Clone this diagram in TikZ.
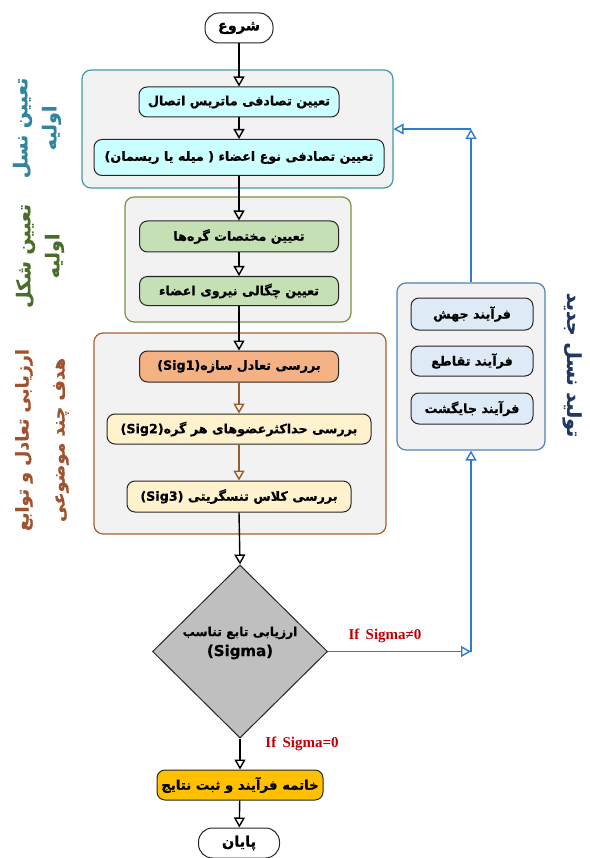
\documentclass[tikz,border=0pt]{standalone}
\usepackage{fontspec}
\setmainfont{Liberation Serif}
\newfontfamily\arabicfont[Script=Arabic, BoldFeatures={FakeBold=0.6}]{DejaVu Sans}
\TeXXeTstate=1
\usetikzlibrary{arrows.meta,shapes.geometric}
\newcommand{\fa}[1]{{\arabicfont\bfseries\beginR #1\endR}}
\definecolor{grpfill}{HTML}{F2F2F2}
\definecolor{tealb}{HTML}{3F9CA6}
\definecolor{greenb}{HTML}{77933C}
\definecolor{brownb}{HTML}{A86032}
\definecolor{blueb}{HTML}{4F81BD}
\definecolor{cyanf}{HTML}{CCFFFF}
\definecolor{greenf}{HTML}{C5E0B4}
\definecolor{salmonf}{HTML}{F4B183}
\definecolor{creamf}{HTML}{FFF2CC}
\definecolor{bluef}{HTML}{DEEBF7}
\definecolor{goldf}{HTML}{FFC000}
\definecolor{diaf}{HTML}{BFBFBF}
\definecolor{conblue}{HTML}{2E7BCF}
\definecolor{conbrown}{HTML}{9C5A2A}
\definecolor{redtxt}{HTML}{C00000}
\definecolor{teallbl}{HTML}{31859C}
\definecolor{greenlbl}{HTML}{4A6E2A}
\definecolor{brownlbl}{HTML}{A0522D}
\definecolor{navylbl}{HTML}{203864}
\tikzset{
  grp/.style={draw, rounded corners=9pt, fill=grpfill, line width=1.2pt},
  bx/.style={draw=black!85, rounded corners=8pt, line width=1pt, inner sep=2pt,
    font=\fontsize{12.7}{15}\selectfont},
  pill/.style={draw=black!85, rounded corners=14pt, line width=1pt, fill=white,
    minimum height=30pt, font=\fontsize{14.5}{16}\selectfont},
  arr/.style={line width=1.4pt, -{Triangle[open, length=10pt, width=11pt]}},
  barr/.style={draw=conblue, line width=1.4pt, -{Triangle[open, length=10pt, width=11pt]}},
  brarr/.style={draw=conbrown, line width=1.4pt, -{Triangle[open, length=10pt, width=11pt]}},
  vlbl/.style={align=center, font=\fontsize{19}{29}\selectfont},
  cond/.style={text=redtxt, font=\bfseries\fontsize{15}{17}\selectfont}
}
\begin{document}
\begin{tikzpicture}[x=1pt,y=-1pt]
\path[use as bounding box] (0,0) rectangle (589,858);

% groups
\node[grp, draw=tealb, minimum width=311pt, minimum height=118pt] (g1) at (237.5,129) {};
\node[grp, draw=greenb, minimum width=226pt, minimum height=125pt] (g2) at (238,259.5) {};
\node[grp, draw=brownb, minimum width=292pt, minimum height=201pt] (g3) at (240,433.5) {};
\node[grp, draw=blueb, minimum width=148pt, minimum height=167pt] (rg) at (471,366.5) {};

% start / end
\node[pill, minimum width=68pt] (start) at (239,28) {\fa{شروع}};
\node[pill, minimum width=81pt] (stop) at (239,843) {\fa{پایان}};

% boxes
\node[bx, fill=cyanf, minimum width=200pt, minimum height=30pt] (b1) at (239,102) {\fa{تعیین تصادفی ماتریس اتصال}};
\node[bx, fill=cyanf, minimum width=290pt, minimum height=36pt] (b2) at (239,157.5) {\fa{تعیین تصادفی نوع اعضاء ( میله یا ریسمان)}};
\node[bx, fill=greenf, minimum width=199pt, minimum height=31pt] (b3) at (239,236.5) {\fa{تعیین مختصات گره‌ها}};
\node[bx, fill=greenf, minimum width=199pt, minimum height=29pt] (b4) at (239,291) {\fa{تعیین چگالی نیروی اعضاء}};
\node[bx, fill=salmonf, minimum width=199pt, minimum height=31pt] (b5) at (239,366.5) {\fa{بررسی تعادل سازه\beginL(Sig1)\endL}};
\node[bx, fill=creamf, minimum width=264pt, minimum height=30pt] (b6) at (239,429) {\fa{بررسی حداکثرعضوهای هر گره\beginL(Sig2)\endL}};
\node[bx, fill=creamf, minimum width=224pt, minimum height=31pt] (b7) at (239,496.5) {\fa{بررسی کلاس تنسگریتی \beginL(Sig3)\endL}};

\node[bx, fill=bluef, minimum width=122pt, minimum height=32pt] (r1) at (472,314) {\fa{فرآیند جهش}};
\node[bx, fill=bluef, minimum width=122pt, minimum height=30pt] (r2) at (472,361) {\fa{فرآیند تقاطع}};
\node[bx, fill=bluef, minimum width=122pt, minimum height=31pt] (r3) at (472,408.5) {\fa{فرآیند جایگشت}};

% decision
\node[diamond, draw=black!85, fill=diaf, line width=1pt, minimum width=175pt, minimum height=173pt, inner sep=0pt] (dia) at (240,651.5) {};
\node[align=center, font=\fontsize{12.3}{20}\selectfont] (diat) at (240,643) {\fa{ارزیابی تابع تناسب}\\{\fontsize{15}{20}\selectfont\fa{\beginL(Sigma)\endL}}};

\node[bx, fill=goldf, minimum width=166pt, minimum height=30pt, font=\fontsize{13.3}{15}\selectfont] (fin) at (240,785) {\fa{خاتمه فرآیند و ثبت نتایج}};

% side labels
\node[vlbl, rotate=90, text=teallbl] (l1) at (37,128) {\fa{تعیین نسل}\\\fa{اولیه}};
\node[vlbl, rotate=90, text=greenlbl] (l2) at (40,256) {\fa{تعیین شکل}\\\fa{اولیه}};
\node[vlbl, rotate=90, text=brownlbl, font=\fontsize{17.5}{36}\selectfont] (l3) at (42,440) {\fa{ارزیابی تعادل و توابع}\\\fa{هدف چند موضوعی}};
\node[vlbl, rotate=-90, text=navylbl] (l4) at (572,365) {\fa{تولید نسل جدید}};

% condition labels
\node[cond] (c0) at (385,636) {If\, Sigma≠0};
\node[cond] (c1lbl) at (302,744) {If\, Sigma=0};

% connectors
\draw[arr] (start) -- (b1);
\draw[arr] (b1) -- (b2);
\draw[arr] (b2.south) -- (b3.north);
\draw[arr] (b3) -- (b4);
\draw[arr] (b4) -- (b5);
\draw[brarr] (b5) -- (b6);
\draw[brarr] (b6) -- (b7);
\draw[arr] (b7.south) -- (dia.north);
\draw[arr] (dia.south) -- (fin.north);
\draw[arr] (fin) -- (stop);

\coordinate (k1) at (471,651.5);
\coordinate (k2) at (471,129);
\draw[barr] (dia.east) -- (k1);
\draw[barr] (k1) -- (rg.south);
\draw[barr] (rg.north) -- (k2);
\draw[barr] (k2) -- (k2 -| g1.east);
\end{tikzpicture}
\end{document}
